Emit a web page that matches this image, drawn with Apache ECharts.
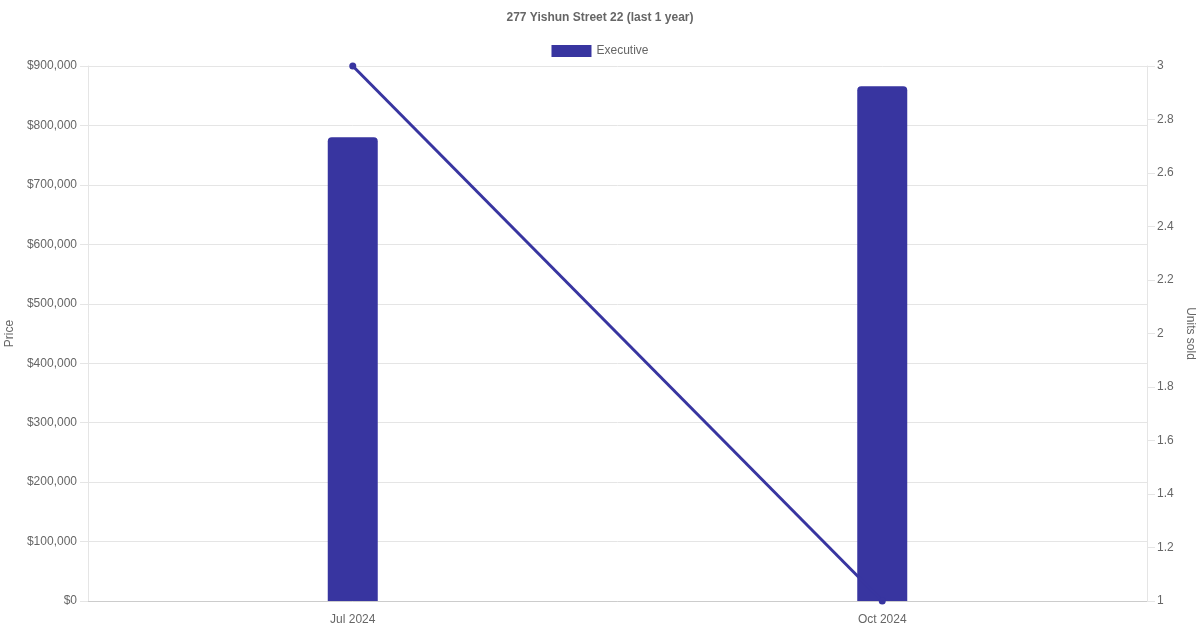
<!DOCTYPE html>
<html><head><meta charset="utf-8">
<script src="https://cdn.jsdelivr.net/npm/echarts@6/dist/echarts.min.js"></script>
<style>html,body{margin:0;padding:0;background:#fff}#c{width:1200px;height:630px}</style>
</head><body><div id="c"></div>
<script>
const categories = ["Jul 2024", "Oct 2024"];
const priceValues = [780000, 866000];
const unitsSold = [3, 1];
const seriesName = "Executive";
const titleText = "277 Yishun Street 22 (last 1 year)";

const color = "#3835a0";
const txt = "#666";
const font = "'Liberation Sans', Arial, sans-serif";
const chart = echarts.init(document.getElementById('c'));
chart.setOption({
  animation: false,
  textStyle: { fontFamily: font },
  title: { text: titleText, left: 'center', top: 7, textStyle: { fontSize: 12, fontWeight: 'bold', color: txt, fontFamily: font } },
  legend: { data: [seriesName], top: 40, left: 'center', itemWidth: 40, itemHeight: 12, itemGap: 6,
    textStyle: { fontSize: 12, color: txt, fontFamily: font },
    icon: 'rect' },
  grid: { left: 88, right: 53, top: 66, bottom: 29, containLabel: false, outerBoundsMode: 'none' },
  xAxis: { type: 'category', data: categories,
    axisLine: { show: true, lineStyle: { color: '#ccc' } },
    axisTick: { show: false },
    axisLabel: { color: txt, fontSize: 12, margin: 13, fontFamily: font },
    splitLine: { show: false } },
  yAxis: [
    { type: 'value', min: 0, max: 900000, interval: 100000, name: 'Price', nameLocation: 'middle', nameGap: 68,
      nameTextStyle: { color: txt, fontSize: 12, fontFamily: font },
      axisLine: { show: true, lineStyle: { color: '#e5e5e5' } },
      axisTick: { show: true, length: 8, lineStyle: { color: '#e5e5e5' } },
      axisLabel: { color: txt, fontSize: 12, margin: 11, fontFamily: font,
        formatter: v => '$' + v.toLocaleString('en-US') },
      splitLine: { lineStyle: { color: '#e5e5e5' } } },
    { type: 'value', min: 1, max: 3, interval: 0.2, position: 'right', name: 'Units sold', nameLocation: 'middle', nameGap: 34, nameRotate: -90,
      nameTextStyle: { color: txt, fontSize: 12, fontFamily: font },
      axisLine: { show: true, lineStyle: { color: '#e5e5e5' } },
      axisTick: { show: true, length: 8, lineStyle: { color: '#e5e5e5' } },
      axisLabel: { color: txt, fontSize: 12, margin: 10, fontFamily: font,
        formatter: v => String(Math.round(v * 10) / 10) },
      splitLine: { show: false } }
  ],
  series: [
    { name: seriesName, type: 'bar', data: priceValues, yAxisIndex: 0, barWidth: 50,
      itemStyle: { color: color, borderRadius: [4, 4, 0, 0] } },
    { name: 'Units sold', type: 'line', data: unitsSold, yAxisIndex: 1,
      symbol: 'circle', symbolSize: 7, lineStyle: { color: color, width: 3 },
      itemStyle: { color: color }, z: 3 }
  ]
});
</script></body></html>
